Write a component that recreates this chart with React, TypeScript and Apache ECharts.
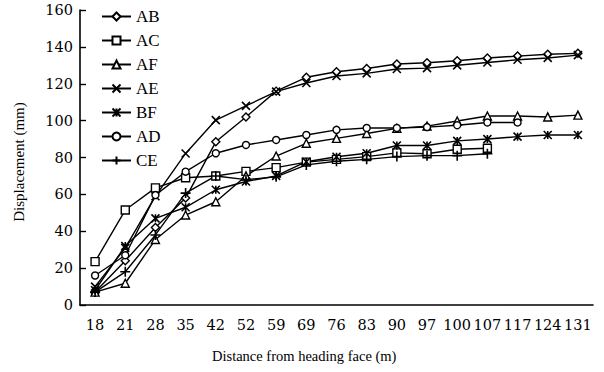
import React, { useEffect, useRef } from "react";
import * as echarts from "echarts";

const categories = ["18", "21", "28", "35", "42", "52", "59", "69", "76", "83", "90", "97", "100", "107", "117", "124", "131"];

const AB = [7, 24, 42, 58, 88.5, 102, 116, 123.5, 126.5, 128.3, 130.7, 131.4, 132.5, 134, 135, 136, 136.5];
const AC = [23.5, 51.5, 63.5, 69, 70, 72.5, 74.5, 77.5, 79, 80.5, 82.5, 82, 84.5, 85, null, null, null];
const AF = [7, 11.8, 35.5, 48.8, 56, 70, 80.8, 87.7, 90.4, 93, 95.8, 97, 99.8, 102.5, 102.5, 102, 103];
const AE = [10, 31, 59, 82.2, 100.3, 108, 115.7, 120.4, 124.2, 125.6, 128, 128.5, 130, 131.5, 133, 134, 135.5];
const BF = [8, 32, 47, 53, 62.5, 67, 70, 77.7, 80.4, 82.3, 86.5, 86.5, 89, 90, 91.3, 92.2, 92.2];
const AD = [16, 27, 59.6, 72.3, 82.3, 86.8, 89.5, 92.2, 95, 96, 96, 96.5, 97.5, 99, 99, null, null];
const CE = [7, 18, 38, 60.7, 70, 68, 69.5, 76, 78, 79, 80.5, 81, 81, 82, null, null, null];

const yTicks = { min: 0, max: 160, interval: 20 };

const FONT = "'Liberation Serif', 'Times New Roman', serif";
const TICK_FONT = "'DejaVu Serif', 'Liberation Serif', serif";

const SYM_X = "path://M0,0L10,10M10,0L0,10";
const SYM_STAR = "path://M0,0L10,10M10,0L0,10M5,0L5,10";
const SYM_PLUS = "path://M5,0L5,10M0,5L10,5";

export default function App() {
  const ref = useRef<HTMLDivElement>(null);
  useEffect(() => {
    document.body.style.margin = "0";
    if (!ref.current) return;
    const chart = echarts.init(ref.current, null, { renderer: "svg" });
    const mk = (name: string, data: (number | null)[], symbol: string, size: number, hollow: boolean) => ({
      name,
      type: "line",
      data,
      symbol,
      symbolSize: size,
      showAllSymbol: true,
      lineStyle: { color: "#000", width: 1.4 },
      itemStyle: hollow
        ? { color: "#fff", borderColor: "#000", borderWidth: 1.4 }
        : { color: "#000", borderColor: "#000", borderWidth: 1.6 },
      emphasis: { disabled: true },
    });
    chart.setOption({
      animation: false,
      backgroundColor: "#fff",
      grid: { left: 80, right: 11, top: 10, bottom: 67, containLabel: false },
      legend: {
        orient: "vertical",
        left: 96,
        top: 3,
        itemWidth: 29,
        itemHeight: 10,
        itemGap: 7,
        textStyle: { fontFamily: FONT, fontSize: 17, color: "#000" },
        data: ["AB", "AC", "AF", "AE", "BF", "AD", "CE"],
      },
      xAxis: {
        type: "category",
        data: categories,
        boundaryGap: true,
        axisLine: { lineStyle: { color: "#000", width: 1.6 } },
        axisTick: { inside: true, length: 6, interval: 0, lineStyle: { color: "#000", width: 1.4 } },
        axisLabel: { interval: 0, fontFamily: TICK_FONT, fontSize: 14.5, color: "#000", margin: 12 },
        splitLine: { show: false },
      },
      yAxis: {
        type: "value",
        min: yTicks.min,
        max: yTicks.max,
        interval: yTicks.interval,
        axisLine: { show: true, lineStyle: { color: "#000", width: 1.6 } },
        axisTick: { show: true, inside: true, length: 6, lineStyle: { color: "#000", width: 1.4 } },
        axisLabel: { fontFamily: TICK_FONT, fontSize: 14.5, color: "#000", margin: 7 },
        splitLine: { show: false },
      },
      graphic: [
        {
          type: "text",
          left: 212,
          top: 348,
          style: { text: "Distance from heading face (m)", fontFamily: FONT, fontSize: 14.5, fill: "#000" },
        },
        {
          type: "text",
          x: 19,
          y: 162,
          rotation: Math.PI / 2,
          style: {
            text: "Displacement (mm)",
            fontFamily: FONT,
            fontSize: 15,
            fill: "#000",
            align: "center",
            verticalAlign: "middle",
          },
        },
      ],
      series: [
        mk("AB", AB, "diamond", 8, true),
        mk("AC", AC, "rect", 8, true),
        mk("AF", AF, "triangle", 8, true),
        mk("AE", AE, SYM_X, 8, false),
        mk("BF", BF, SYM_STAR, 8, false),
        mk("AD", AD, "circle", 7, true),
        mk("CE", CE, SYM_PLUS, 10, false),
      ],
    });
    return () => chart.dispose();
  }, []);
  return <div ref={ref} style={{ width: 604, height: 372 }} />;
}
